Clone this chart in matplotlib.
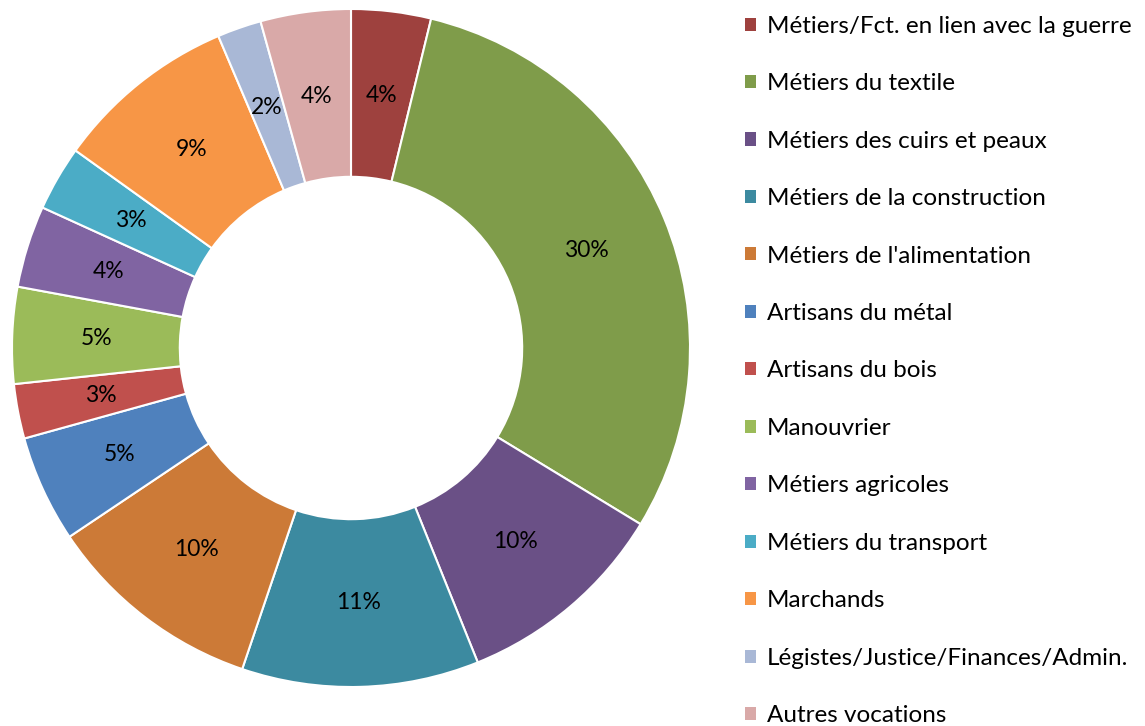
import matplotlib.pyplot as plt
from matplotlib.patches import Patch

# Data (percent share of each group)
categories = ['Métiers/Fct. en lien avec la guerre', 'Métiers du textile',
              'Métiers des cuirs et peaux', 'Métiers de la construction',
              "Métiers de l'alimentation", 'Artisans du métal', 'Artisans du bois',
              'Manouvrier', 'Métiers agricoles', 'Métiers du transport',
              'Marchands', 'Légistes/Justice/Finances/Admin.', 'Autres vocations']
values = [3.8, 29.9, 10.2, 11.3, 10.4, 5.1, 2.6, 4.6, 3.9, 3.1, 8.7, 2.1, 4.3]
colours = ['#9E413E', '#7F9C4A', '#6A5086', '#3C8AA0', '#CC7A37', '#4F81BD',
           '#C0504D', '#9BBB59', '#8064A2', '#4BACC6', '#F79646', '#A9B8D6',
           '#D9A9A8']

plt.rcParams['font.family'] = ['Lato', 'DejaVu Sans']

W, H = 1145, 726
fig = plt.figure(figsize=(W / 100, H / 100), dpi=100)

# pie axes: centre (351, 348) px from top-left, radius 339 px
cx, cy, r = 351, 348, 339
ax = fig.add_axes([(cx - r) / W, (H - cy - r) / H, 2 * r / W, 2 * r / H])
wedges, texts, autotexts = ax.pie(
    values, colors=colours, startangle=90, counterclock=False,
    autopct='%1.0f%%', pctdistance=0.75,
    wedgeprops=dict(width=0.495, edgecolor='white', linewidth=1.5),
    textprops=dict(fontsize=16.5, color='black'))
ax.set_xlim(-1, 1)
ax.set_ylim(-1, 1)
ax.set_aspect('equal')
ax.axis('off')

handles = [Patch(facecolor=c, edgecolor='none') for c in colours]
fig.legend(handles, categories, loc='upper left', bbox_to_anchor=(735 / W, 1 - 6 / H),
           frameon=False, fontsize=17.5, handlelength=0.45, handleheight=0.45,
           handletextpad=0.45, labelspacing=1.5, borderaxespad=0)

plt.savefig('out.png', dpi=100)
